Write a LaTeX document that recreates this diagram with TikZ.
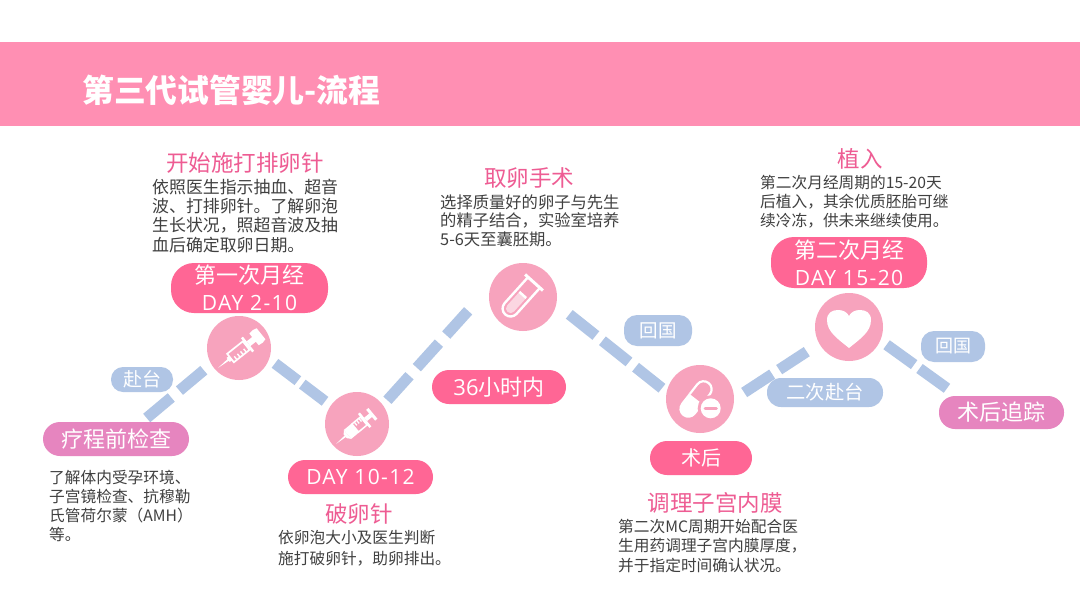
\documentclass[tikz,border=0pt]{standalone}
\usepackage{fontspec}
\setmainfont{Noto Sans CJK SC}
\newfontfamily\lat{Open Sans}
\newfontfamily\latsp[LetterSpace=6.5]{Open Sans}
\definecolor{band}{HTML}{FF8FB3}
\definecolor{hot}{HTML}{FF6695}
\definecolor{mag}{HTML}{E685BF}
\definecolor{blu}{HTML}{B0C5E5}
\definecolor{discpink}{HTML}{F7A3BD}
\definecolor{head}{HTML}{EE5C93}
\definecolor{body}{HTML}{404040}
\newcommand{\fs}[1]{\fontsize{#1pt}{#1pt}\selectfont}
\newcommand{\daytext}[1]{{\latsp\fontsize{21}{21}\selectfont #1}}
\tikzset{
  x=1pt,y=-1pt,
  disc/.style={circle,fill=discpink,inner sep=0pt,minimum size=#1},
  pillbase/.style={inner sep=0pt,text=white,align=center},
  conn/.style={draw=blu,line width=11pt},
  heading/.style={text=head,inner sep=0pt,font=\fs{22.5}},
  bodytext/.style={text=body,inner sep=0pt,align=left,anchor=north west},
}
\newcommand{\pill}[9]{%
  \node[pillbase,fill=#6,rounded corners=#7,minimum width=#4-#2,minimum height=#5-#3,font=\fs{#8}] (#1) at ({(#2+#4)/2},{(#3+#5)/2}) {#9};}
% name, x, y centre of first line, size, line pitch, lines
\newcommand{\para}[6]{%
  \node[bodytext,font={\fontsize{#4pt}{#5pt}\selectfont},text width=240pt] (#1) at (#2,#3-#4*0.47) {#6};}
\newcommand{\syringe}[1]{%
  \begin{scope}[#1,y=1pt]
   \fill[white] (0,0) -- (14,-1.1) -- (14,1.1) -- cycle;
   \fill[white] (13,-2.6) rectangle (16,2.6);
   \draw[white,line width=1.7pt] (16,-5.4) rectangle (36,5.4);
   \draw[white,line width=1.4pt] (20,-5) -- (20,-1) (24,-5) -- (24,-1) (28,-5) -- (28,-1) (32,-5) -- (32,-1);
   \fill[white] (36.5,-9) rectangle (39,9);
   \fill[white] (39,-3) rectangle (47,3);
   \fill[white] (46,-7.5) -- (51,-8) -- (55,-7) -- (55,7) -- (51,8) -- (46,7.5) -- cycle;
  \end{scope}}
\newcommand{\syringeB}[1]{%
  \begin{scope}[#1,y=1pt]
   \fill[white] (0,0) -- (13,-1.0) -- (13,1.0) -- cycle;
   \fill[white] (12,-2.4) -- (15,-5.8) -- (15,5.8) -- (12,2.4) -- cycle;
   \fill[white] (15,-5.8) rectangle (25,5.8);
   \draw[white,line width=1.5pt] (25,-5.2) rectangle (36,5.2);
   \draw[white,line width=1.3pt] (28,5) -- (28,1) (31,5) -- (31,1) (34,5) -- (34,1);
   \fill[white] (36,-9) rectangle (38.5,9);
   \fill[white] (38.5,-2.2) rectangle (46,2.2);
   \fill[white] (45,-7) rectangle (48,7);
  \end{scope}}
\begin{document}
\begin{tikzpicture}
\useasboundingbox (0,0) rectangle (1080,608);
\fill[white] (0,0) rectangle (1080,608);
\fill[band] (0,42) rectangle (1080,126);
\node[text=white,inner sep=0pt,anchor=west,font=\fs{31.8}\bfseries] (title) at (82,90) {第三代试管婴儿-流程};
% circles
\node[disc=64pt] (c1) at (239,348) {};
\node[disc=64pt] (c2) at (357,424) {};
\node[disc=68pt] (c3) at (523,297) {};
\node[disc=68pt] (c4) at (700,399) {};
\node[disc=68pt] (c5) at (849,327) {};
% connector free ends
\coordinate (s0) at (146.7,418);
\coordinate (e5) at (947,388.3);
% connectors
\draw[conn,dash pattern=on 32pt off 10.7pt,shorten >=9.5pt] (s0) -- (c1.210);
\draw[conn,dash pattern=on 28.7pt off 5.6pt,shorten <=7.2pt,shorten >=7pt] (c1.-20.8) -- (c2.145.6);
\draw[conn,dash pattern=on 33pt off 10.9pt,shorten <=6.5pt,shorten >=33.6pt] (c2.36.9) -- (c3.161);
\draw[conn,dash pattern=on 34pt off 8.4pt,shorten <=16.4pt,shorten >=5.9pt] (c3.-12.7) -- (c4.168.8);
\draw[conn,dash pattern=on 33.5pt off 8.3pt,shorten <=11.9pt,shorten >=14.7pt] (c4.-0.8) -- (c5.209.2);
\draw[conn,dash pattern=on 34pt off 6.6pt,shorten <=7.5pt] (c5.-23.6) -- (e5);
% pills
\pill{p0}{43}{422}{189}{456}{mag}{17pt}{22}{疗程前检查}
\pill{p1}{171}{263}{328}{313}{hot}{23pt}{22}{第一次月经\\[5.5pt]\daytext{DAY 2-10}}
\pill{p2}{288}{460}{433}{494}{hot}{17pt}{22}{\daytext{DAY 10-12}}
\pill{q0}{111}{367}{173}{392}{blu}{12pt}{19}{赴台}
\pill{p3}{432}{370}{566}{404}{hot}{17pt}{22}{{\lat 36}小时内}
\pill{q1}{624}{315}{692}{346}{blu}{13pt}{18.5}{回国}
\pill{p4}{650}{441}{752}{475}{hot}{17pt}{20}{术后}
\pill{p5}{771}{237}{927}{288}{hot}{23pt}{22}{第二次月经\\[5pt]\daytext{DAY 15-20}}
\pill{q2}{767}{378}{883}{407}{blu}{14pt}{19.3}{二次赴台}
\pill{q3}{921}{331}{985}{362}{blu}{13pt}{18}{回国}
\pill{p6}{939}{396}{1064}{429}{mag}{16pt}{22}{术后追踪}
% headings
\node[heading] (h1) at (245,163) {开始施打排卵针};
\node[heading] (h2) at (359,514) {破卵针};
\node[heading] (h3) at (529,178) {取卵手术};
\node[heading] (h4) at (860,159) {植入};
\node[heading] (h5) at (715,503) {调理子宫内膜};
% body
\para{b0}{49}{477}{15.7}{19}{了解体内受孕环境、\\子宫镜检查、抗穆勒\\氏管荷尔蒙（AMH）\\等。}
\para{b1}{152}{187}{16.9}{19.2}{依照医生指示抽血、超音\\波、打排卵针。了解卵泡\\生长状况，照超音波及抽\\血后确定取卵日期。}
\para{b2}{278}{537}{15.7}{21}{依卵泡大小及医生判断\\施打破卵针，助卵排出。}
\para{b3}{440}{202}{16.3}{18.7}{选择质量好的卵子与先生\\的精子结合，实验室培养\\5-6天至囊胚期。}
\para{b4}{760}{182}{15.7}{19}{第二次月经周期的15-20天\\后植入，其余优质胚胎可继\\续冷冻，供未来继续使用。}
\para{b5}{618}{526}{15.7}{19.5}{第二次MC周期开始配合医\\生用药调理子宫内膜厚度，\\并于指定时间确认状况。}
% icons
\syringe{shift={(218,368)},rotate=38.5}
\syringeB{shift={(336,444)},rotate=39.7}
% test tube
\begin{scope}[shift={(534,282.5)},rotate=-132,y=1pt]
 \draw[white,line width=2.4pt,line join=round] (0,-8) -- (35,-8) arc[start angle=-90,end angle=90,radius=8] -- (0,8);
 \fill[white] (-1.5,-12) rectangle (1.5,12);
 \fill[white!55!discpink] (17,-4.6) -- (35,-4.6) arc[start angle=-90,end angle=90,radius=4.6] -- (17,4.6) -- cycle;
 \fill[white] (15.5,-4.6) rectangle (18,4.6);
\end{scope}
% capsule with minus disc
\begin{scope}[shift={(696,399)},rotate=52,y=1pt]
 \fill[white] (0,-9) -- (-12.4,-9) arc[start angle=270,end angle=90,radius=9] -- (0,9) -- cycle;
 \draw[white,line width=2.2pt] (0,-8) -- (12.4,-8) arc[start angle=-90,end angle=90,radius=8] -- (0,8);
\end{scope}
\fill[discpink] (710.7,408.3) circle (13);
\fill[white] (710.7,408.3) circle (10);
\draw[discpink,line width=3pt,line cap=round] (705,408.3) -- (716.4,408.3);
% heart
\fill[white] (849,348) .. controls (838,339) and (827,332) .. (827,320) .. controls (827,313) and (832,310) .. (838,310) .. controls (843,310) and (847,312) .. (849,316) .. controls (851,312) and (855,310) .. (860,310) .. controls (866,310) and (871,313) .. (871,320) .. controls (871,332) and (860,339) .. (849,348) -- cycle;
\end{tikzpicture}
\end{document}
